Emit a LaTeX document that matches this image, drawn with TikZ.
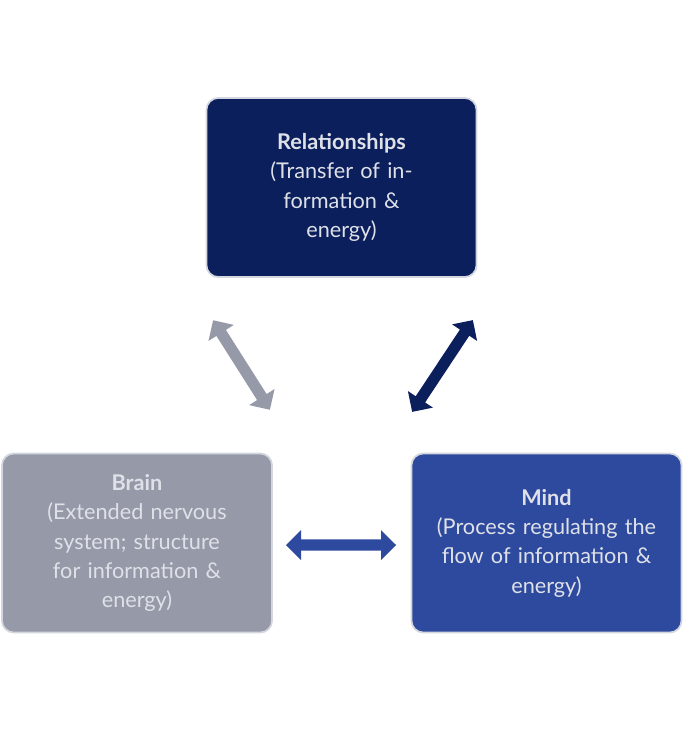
\documentclass[tikz,border=0pt]{standalone}
\usepackage{fontspec}
\setmainfont{Lato}
\usetikzlibrary{shapes.arrows}
\definecolor{navy}{HTML}{0B1F5C}
\definecolor{gb}{HTML}{9699A8}
\definecolor{mb}{HTML}{2E4A9E}
\definecolor{bd}{HTML}{D3D6DE}
\definecolor{tx}{HTML}{DFE1E8}
\begin{document}
\begin{tikzpicture}[x=0.03cm,y=-0.03cm,
 box/.style={draw=bd,line width=1.5pt,rounded corners=10pt,minimum width=270*0.03cm,minimum height=179*0.03cm,text width=240*0.03cm,align=center,text=tx,font=\fontsize{18.5}{25}\selectfont},
 darr/.style={double arrow,double arrow head extend=7pt,minimum width=30*0.03cm,inner sep=4pt,draw=none}]
\useasboundingbox (0,0) rectangle (684,732);
\node[box,fill=navy] (rel) at (341.5,187.5) {\textbf{Relationships}\\(Transfer of information \&\\ energy)};
\node[box,fill=gb] (brain) at (137,543) {\textbf{Brain}\\(Extended nervous system; structure for information \&\\ energy)};
\node[box,fill=mb] (mind) at (546.5,543) {\textbf{Mind}\\(Process regulating the flow of information \&\\ energy)};
\node[darr,fill=gb,minimum height=106*0.03cm,rotate=-57.6] (a1) at (241.5,365) {};
\node[darr,fill=navy,minimum height=110*0.03cm,rotate=56.5] (a2) at (442.5,366) {};
\node[darr,fill=mb,minimum height=110*0.03cm] (a3) at (341,545) {};
\end{tikzpicture}
\end{document}
